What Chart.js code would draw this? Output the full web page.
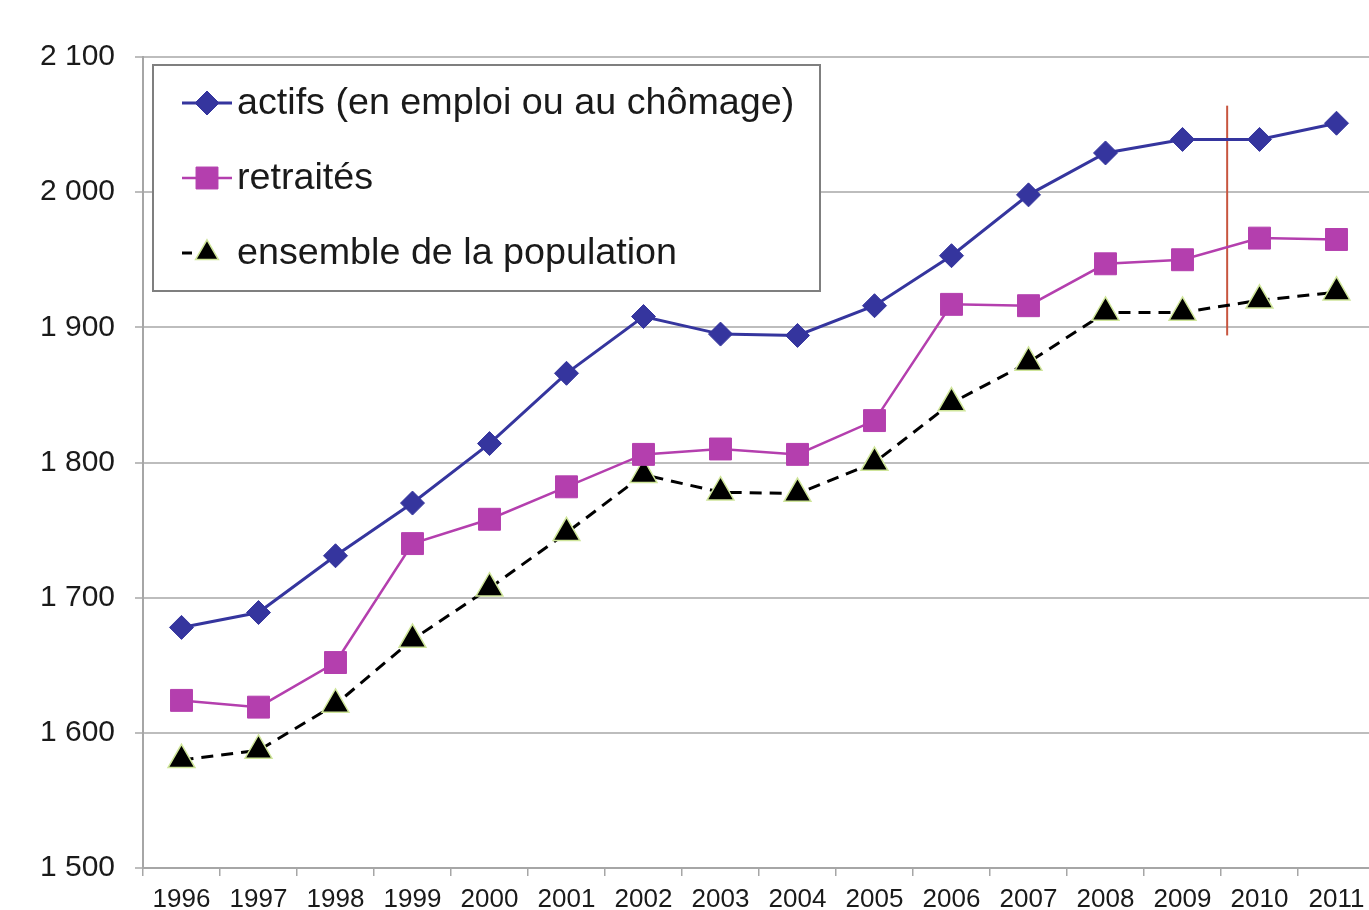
<!DOCTYPE html>
<html>
<head>
<meta charset="utf-8">
<script src="https://cdn.jsdelivr.net/npm/chart.js@4.4.0/dist/chart.umd.min.js"></script>
<style>
  html, body { margin: 0; padding: 0; background: #fff; overflow: hidden; }
  #graf { display: block; }
</style>
</head>
<body>
<canvas id="graf" width="1392" height="910"></canvas>
<script>
// ---------- donnees ----------
const annees = ["1996","1997","1998","1999","2000","2001","2002","2003","2004","2005","2006","2007","2008","2009","2010","2011"];
const actifs = [1678, 1689, 1731, 1770, 1814, 1866, 1908, 1895, 1894, 1916, 1953, 1998, 2029, 2039, 2039, 2051];
const retraites = [1624, 1619, 1652, 1740, 1758, 1782, 1806, 1810, 1806, 1831, 1917, 1916, 1947, 1950, 1966, 1965];
const ensemble = [1580, 1587, 1621, 1669, 1707, 1748, 1791, 1778, 1777, 1800, 1844, 1874, 1911, 1911, 1920, 1926];
const yMin = 1500, yMax = 2100, yPas = 100;
// rupture de serie entre 2009 et 2010
const rupture = { index: 13.58, haut: 2064, bas: 1894 };

const libelles = ["actifs (en emploi ou au chômage)", "retraités", "ensemble de la population"];
const couleurs = ["#35359e", "#b43fae", "#000000"];

function formatNombre(v) {
  return String(v).replace(/\B(?=(\d{3})+(?!\d))/g, " ");
}

// ---------- plugins ----------
const ligneRupture = {
  id: "ligneRupture",
  beforeDatasetsDraw(chart) {
    const x = chart.scales.x.getPixelForValue(rupture.index);
    const y1 = chart.scales.y.getPixelForValue(rupture.haut);
    const y2 = chart.scales.y.getPixelForValue(rupture.bas);
    const ctx = chart.ctx;
    ctx.save();
    ctx.strokeStyle = "#c8553f";
    ctx.lineWidth = 2;
    ctx.beginPath();
    ctx.moveTo(x, y1);
    ctx.lineTo(x, y2);
    ctx.stroke();
    ctx.restore();
  }
};

const legende = {
  id: "legende",
  afterDraw(chart) {
    const ctx = chart.ctx;
    const a = chart.chartArea;
    const bx = a.left + 10, by = a.top + 8, bw = 667, bh = 226;
    ctx.save();
    ctx.fillStyle = "#fff";
    ctx.fillRect(bx, by, bw, bh);
    ctx.strokeStyle = "#7f7f7f";
    ctx.lineWidth = 2;
    ctx.strokeRect(bx, by, bw, bh);

    const ds = chart.data.datasets;
    ds.forEach((d, i) => {
      const cy = by + 38 + i * 75;
      const x0 = bx + 29, x1 = bx + 79, xm = bx + 54;
      ctx.strokeStyle = d.borderColor;
      ctx.lineWidth = d.borderWidth;
      ctx.beginPath();
      if (i === 2) {
        ctx.moveTo(x0, cy);
        ctx.lineTo(x0 + 10, cy);
      } else {
        ctx.moveTo(x0, cy);
        ctx.lineTo(x1, cy);
      }
      ctx.stroke();
      ctx.fillStyle = d.pointBackgroundColor;
      ctx.strokeStyle = d.pointBorderColor;
      ctx.lineWidth = d.pointBorderWidth;
      Chart.helpers.drawPoint(ctx, {
        pointStyle: d.pointStyle,
        radius: i === 2 ? d.pointRadius * 0.85 : d.pointRadius,
        rotation: 0,
        borderWidth: d.pointBorderWidth
      }, xm, cy);
      ctx.fillStyle = "#1a1a1a";
      ctx.font = "37.7px 'Liberation Sans', Arial, sans-serif";
      ctx.textBaseline = "middle";
      ctx.fillText(d.label, bx + 84, cy + 1);
    });
    ctx.restore();
  }
};

// ---------- graphique ----------
new Chart(document.getElementById("graf"), {
  type: "line",
  data: {
    labels: annees,
    datasets: [
      {
        label: libelles[0], data: actifs,
        borderColor: couleurs[0], borderWidth: 3,
        pointStyle: "rectRot", pointRadius: 12,
        pointBackgroundColor: couleurs[0], pointBorderColor: couleurs[0], pointBorderWidth: 1
      },
      {
        label: libelles[1], data: retraites,
        borderColor: couleurs[1], borderWidth: 2.5,
        pointStyle: "rect", pointRadius: 15.5,
        pointBackgroundColor: couleurs[1], pointBorderColor: couleurs[1], pointBorderWidth: 1
      },
      {
        label: libelles[2], data: ensemble,
        borderColor: couleurs[2], borderWidth: 3, borderDash: [12, 8],
        pointStyle: "triangle", pointRadius: 15.5,
        pointBackgroundColor: "#000", pointBorderColor: "#cfe59a", pointBorderWidth: 1.5
      }
    ]
  },
  options: {
    responsive: false,
    animation: false,
    layout: { padding: { top: 57, left: 0, right: 0, bottom: 0 } },
    plugins: {
      legend: { display: false },
      tooltip: { enabled: false }
    },
    elements: { line: { tension: 0 } },
    scales: {
      x: {
        offset: true,
        grid: { display: true, drawOnChartArea: false, offset: true, color: "#a6a6a6", lineWidth: 1.5, tickLength: 8 },
        border: { color: "#a6a6a6", width: 2 },
        ticks: { color: "#1a1a1a", padding: 8, maxRotation: 0, autoSkip: false,
                 font: { family: "'Liberation Sans', Arial, sans-serif", size: 26 } },
        afterFit(s) { s.height = 42; }
      },
      y: {
        min: yMin, max: yMax,
        grid: { color: "#bdbdbd", lineWidth: 2, tickLength: 8 },
        border: { color: "#a6a6a6", width: 2 },
        ticks: { stepSize: yPas, color: "#1a1a1a", padding: 20,
                 font: { family: "'Liberation Sans', Arial, sans-serif", size: 30 },
                 callback: v => formatNombre(v) },
        afterFit(s) { s.width = 143; }
      }
    }
  },
  plugins: [ligneRupture, legende]
});
</script>
</body>
</html>
